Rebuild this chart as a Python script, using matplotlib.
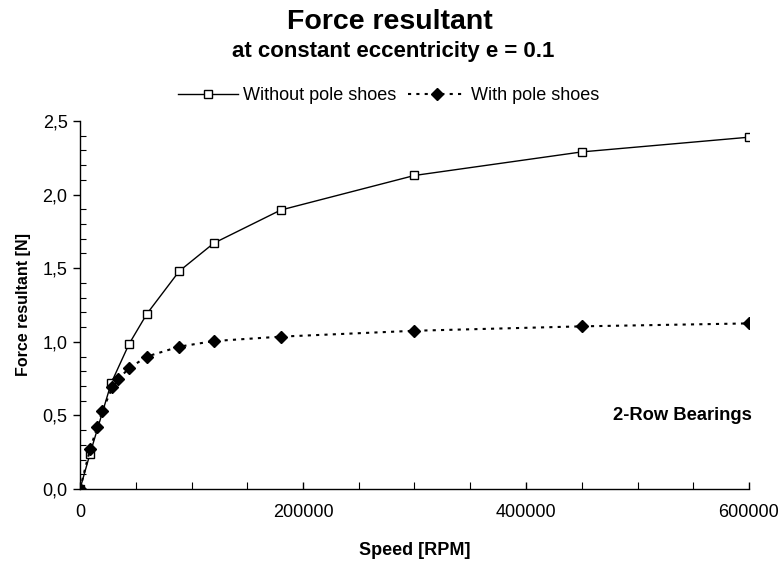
import matplotlib
matplotlib.use("Agg")
import matplotlib.pyplot as plt
from matplotlib.ticker import MultipleLocator, FuncFormatter

speed_without = [0, 9000, 28000, 44000, 60000, 89000, 120000, 180000, 300000, 450000, 600000]
force_without = [0.0, 0.24, 0.72, 0.985, 1.19, 1.48, 1.67, 1.895, 2.13, 2.29, 2.39]

speed_with = [0, 9000, 15500, 20000, 29000, 34000, 44000, 60000, 89000, 120000, 180000, 300000, 450000, 600000]
force_with = [0.0, 0.27, 0.42, 0.53, 0.69, 0.745, 0.82, 0.90, 0.967, 1.005, 1.035, 1.075, 1.105, 1.125]

plt.rcParams['font.family'] = ['Liberation Sans', 'DejaVu Sans']

W, H = 784, 563
fig = plt.figure(figsize=(W / 100, H / 100), dpi=100)
ax = fig.add_axes([80 / W, 74 / H, 669 / W, 368 / H])

l1, = ax.plot(speed_without, force_without, color='black', lw=1.0, marker='s', ms=5.8,
              mfc='white', mec='black', mew=1.0, label='Without pole shoes', zorder=3)
l2, = ax.plot(speed_with, force_with, color='black', lw=1.5, ls=(0, (1.5, 2.5)), marker='D', ms=6.0,
              mfc='black', mec='black', label='With pole shoes', zorder=3)

ax.set_xlim(0, 600000)
ax.set_ylim(0, 2.5)
ax.xaxis.set_major_locator(MultipleLocator(200000))
ax.xaxis.set_minor_locator(MultipleLocator(50000))
ax.yaxis.set_major_locator(MultipleLocator(0.5))
ax.yaxis.set_minor_locator(MultipleLocator(0.1))
ax.xaxis.set_major_formatter(FuncFormatter(lambda v, p: f"{int(round(v))}"))
ax.yaxis.set_major_formatter(FuncFormatter(lambda v, p: f"{v:.1f}".replace('.', ',')))

for s in ['top', 'right']:
    ax.spines[s].set_visible(False)
for s in ['left', 'bottom']:
    ax.spines[s].set_linewidth(1.0)

ax.tick_params(axis='y', which='major', direction='out', length=5, width=1, labelsize=13, pad=4)
ax.tick_params(axis='y', which='minor', direction='in', length=4, width=0.8)
ax.tick_params(axis='x', which='major', direction='in', length=5, width=1, labelsize=13, pad=11)
ax.tick_params(axis='x', which='minor', direction='in', length=5, width=0.8)

ax.set_xlabel('Speed [RPM]', fontsize=13, fontweight='bold', labelpad=15)
ax.set_ylabel('Force resultant [N]', fontsize=11.5, fontweight='bold', labelpad=8)

fig.text(390 / W, 1 - 22 / H, 'Force resultant', ha='center', va='center',
         fontsize=20.5, fontweight='bold')
fig.text(393 / W, 1 - 51 / H, 'at constant eccentricity e = 0.1', ha='center', va='center',
         fontsize=16, fontweight='bold')

ax.text(1.004, 0.201, '2-Row Bearings', transform=ax.transAxes, ha='right', va='center',
        fontsize=13.2, fontweight='bold')

leg1 = fig.legend(handles=[l1], loc='center left', bbox_to_anchor=(178 / W, 1 - 96 / H),
                  frameon=False, fontsize=13, handlelength=3.3, handletextpad=0.3,
                  borderpad=0, borderaxespad=0)
leg2 = fig.legend(handles=[l2], loc='center left', bbox_to_anchor=(408 / W, 1 - 96 / H),
                  frameon=False, fontsize=13, handlelength=3.2, handletextpad=0.3,
                  borderpad=0, borderaxespad=0)

fig.savefig('out.png', dpi=100)
